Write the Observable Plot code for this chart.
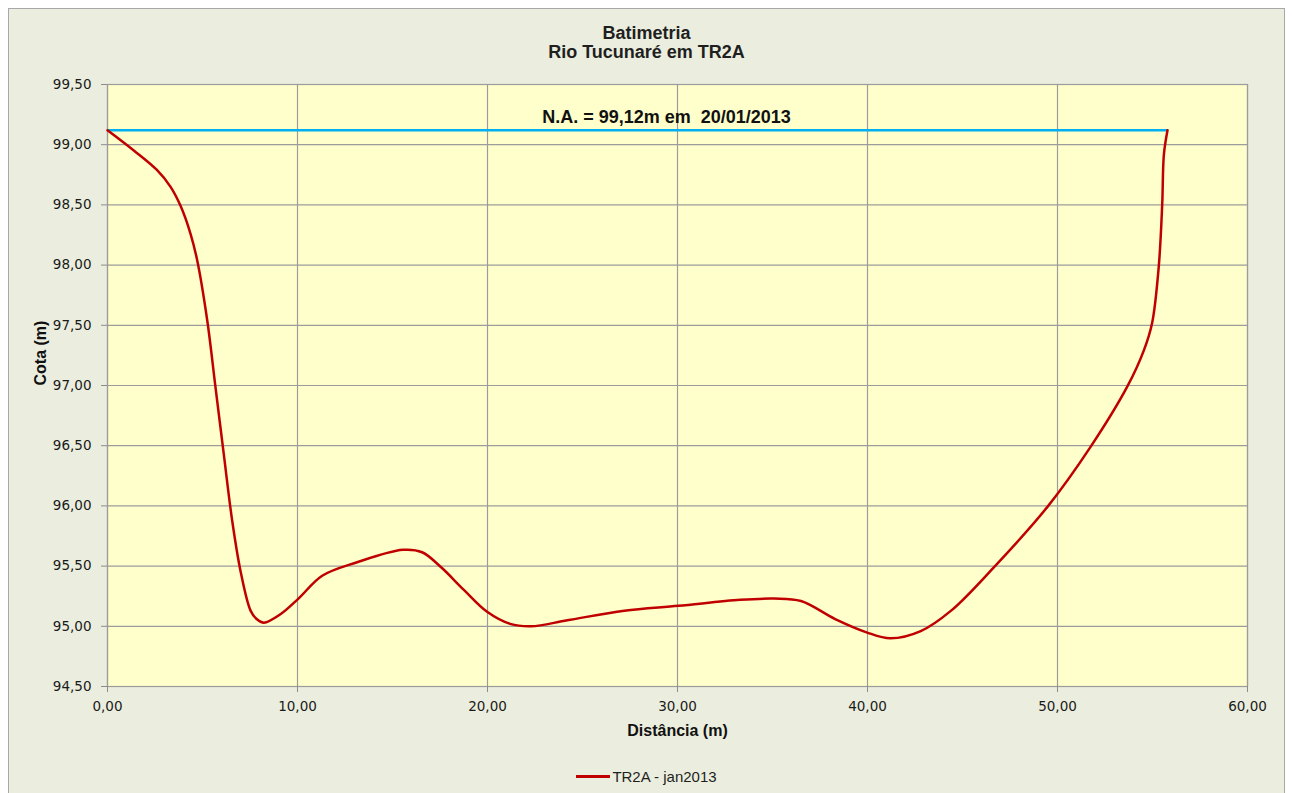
<!DOCTYPE html>
<html>
<head>
<meta charset="utf-8">
<script src="https://cdn.jsdelivr.net/npm/d3@7"></script>
<script src="https://cdn.jsdelivr.net/npm/@observablehq/plot@0.6"></script>
<style>
  html, body { margin: 0; padding: 0; background: #ffffff; }
  #chart {
    position: absolute; left: 8px; top: 8px;
    width: 1275px;
    background: #EBEEDE;
    border: 1px solid #A8A8A8;
    color: #1F1F1F;
  }
  #title {
    height: 60px; box-sizing: border-box; padding-top: 14.5px;
    text-align: center; font-family: "Liberation Sans", Arial, sans-serif;
    font-weight: bold; font-size: 18px; line-height: 19px;
  }
  #plot svg { display: block; white-space: pre; }
  #legend {
    height: 52px; display: flex; justify-content: center; align-items: center;
    font-family: "Liberation Sans", Arial, sans-serif; font-size: 15px;
  }
  #legend .swatch { display: inline-block; width: 34px; height: 3px; background: #C00000; margin-right: 2px; }
</style>
</head>
<body>
<div id="chart">
  <div id="title"><div>Batimetria</div><div>Rio Tucunaré em TR2A</div></div>
  <div id="plot"></div>
  <div id="legend"><span class="swatch"></span><span>TR2A - jan2013</span></div>
</div>
<script>
// ---- data ----
const distances = [0.00, 1.40, 2.60, 3.32, 3.85, 4.37, 4.72, 5.25, 5.68, 6.12, 6.56, 7.00, 7.53, 7.85, 8.23, 9.10, 10.05, 11.30, 13.10, 15.55, 16.56, 17.56, 18.77, 19.98, 21.19, 22.30, 24.20, 27.20, 30.05, 33.30, 35.10, 36.50, 38.30, 39.95, 41.20, 42.80, 44.40, 46.65, 49.46, 51.74, 53.67, 54.54, 54.98, 55.33, 55.51, 55.60, 55.79];
const elevations = [99.12, 98.95, 98.79, 98.65, 98.49, 98.26, 98.04, 97.54, 96.99, 96.43, 95.88, 95.46, 95.13, 95.06, 95.03, 95.10, 95.23, 95.42, 95.53, 95.635, 95.615, 95.49, 95.30, 95.12, 95.02, 95.00, 95.05, 95.13, 95.17, 95.22, 95.23, 95.21, 95.06, 94.95, 94.90, 94.96, 95.13, 95.49, 95.99, 96.49, 96.99, 97.29, 97.52, 97.99, 98.50, 98.92, 99.12];
const naLevel = 99.12;
const naExtent = [0.00, 55.79];
const naLabel = "N.A. = 99,12m em  20/01/2013";
const xTicks = [0, 10, 20, 30, 40, 50, 60];
const yTicks = [94.5, 95.0, 95.5, 96.0, 96.5, 97.0, 97.5, 98.0, 98.5, 99.0, 99.5];
const xLabel = "Distância (m)";
const yLabel = "Cota (m)";

const profile = distances.map((d, i) => ({distance: d, elevation: elevations[i]}));
const ptBR = d3.formatLocale({decimal: ",", thousands: ".", grouping: [3], currency: ["R$", ""]});
const fmt = ptBR.format(".2f");

const tickFont = "DejaVu Sans, Verdana, sans-serif";
const boldFont = "Liberation Sans, Arial, sans-serif";

const chart = Plot.plot({
  width: 1275,
  height: 681,
  marginLeft: 98,
  marginRight: 37,
  marginTop: 15,
  marginBottom: 64,
  style: {background: "transparent", color: "#1A1A1A", fontFamily: tickFont, fontSize: "13.5px", overflow: "visible"},
  x: {domain: [0, 60]},
  y: {domain: [94.5, 99.5]},
  marks: [
    Plot.frame({fill: "#FFFFCC", stroke: "none"}),
    Plot.gridX(xTicks, {stroke: "#9C9C9C", strokeOpacity: 1, strokeWidth: 1.2}),
    Plot.gridY(yTicks, {stroke: "#9C9C9C", strokeOpacity: 1, strokeWidth: 1.2}),
    Plot.frame({stroke: "#9C9C9C", strokeWidth: 1.2}),
    Plot.axisX({ticks: xTicks, tickFormat: fmt, tickSize: 6, tickPadding: 9, stroke: "#8C8C8C", label: null, fontSize: 13.5}),
    Plot.axisY({ticks: yTicks, tickFormat: fmt, tickSize: 6, tickPadding: 10, stroke: "#8C8C8C", label: null, fontSize: 13.5}),
    Plot.ruleY([naLevel], {x1: naExtent[0], x2: naExtent[1], stroke: "#00B0F0", strokeWidth: 2.5}),
    Plot.line(profile, {x: "distance", y: "elevation", curve: "catmull-rom", stroke: "#C00000", strokeWidth: 2.5}),
    Plot.text([naLabel], {y: [naLevel], text: d => d, dy: -13, dx: -11, fontWeight: "bold", fontSize: 18, fontFamily: boldFont, fill: "#111"}),
    Plot.text([xLabel], {frameAnchor: "bottom", text: d => d, dy: 49, fontWeight: "bold", fontSize: 16, fontFamily: boldFont, fill: "#111"}),
    Plot.text([yLabel], {frameAnchor: "left", text: d => d, dx: -67, rotate: -90, fontWeight: "bold", fontSize: 16, fontFamily: boldFont, fill: "#111"})
  ]
});
document.getElementById("plot").appendChild(chart);
</script>
</body>
</html>
